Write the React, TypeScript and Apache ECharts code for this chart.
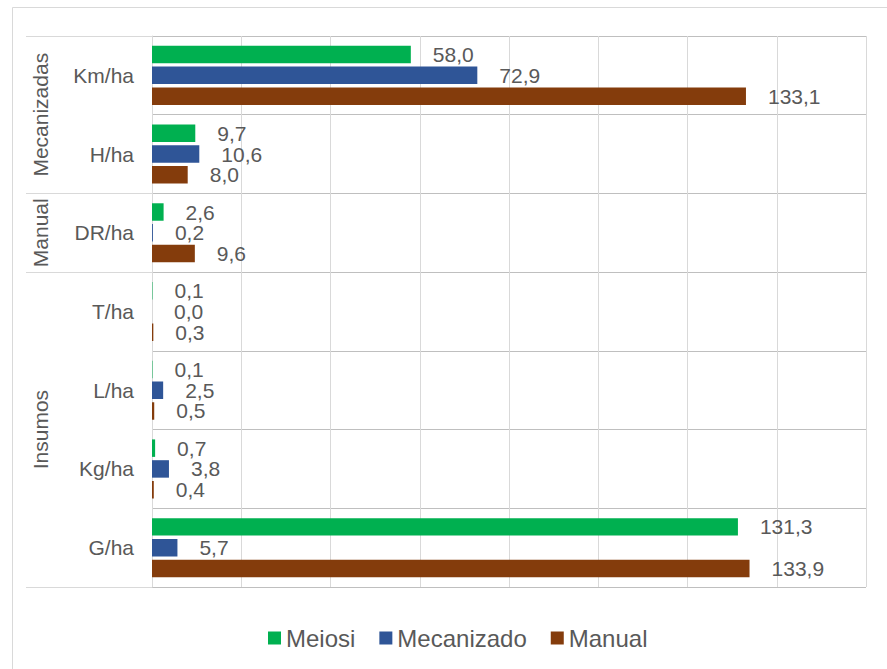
import React, { useEffect, useRef } from "react";
import * as echarts from "echarts";

// Indicator names on the category axis, top to bottom
const categories = ["Km/ha", "H/ha", "DR/ha", "T/ha", "L/ha", "Kg/ha", "G/ha"];

// Values per system, in category order
const meiosi = [58.0, 9.7, 2.6, 0.1, 0.1, 0.7, 131.3];
const mecanizado = [72.9, 10.6, 0.2, 0.0, 2.5, 3.8, 5.7];
const manual = [133.1, 8.0, 9.6, 0.3, 0.5, 0.4, 133.9];

const seriesNames = ["Meiosi", "Mecanizado", "Manual"];
const seriesColors = ["#00b050", "#2f5597", "#843c0c"];

// Outer grouping of the categories: label, first index, last index
const groupNames = ["Mecanizadas", "Manual", "Insumos"];
const groupFirst = [0, 2, 3];
const groupLast = [1, 2, 6];

const FONT = "'Liberation Sans', Arial, sans-serif";
const TEXT = "#595959";

const fmt = (v: number) => v.toFixed(1).replace(".", ",");

export default function App() {
  const ref = useRef<HTMLDivElement>(null);

  useEffect(() => {
    if (!ref.current) return;
    const chart = echarts.init(ref.current, undefined, { renderer: "svg" });
    const values = [meiosi, mecanizado, manual];

    const option: any = {
      animation: false,
      backgroundColor: "#ffffff",
      textStyle: { fontFamily: FONT },
      grid: { left: 152, right: 21, top: 36, bottom: 82, containLabel: false },
      xAxis: {
        type: "value",
        min: 0,
        max: 160,
        interval: 20,
        axisLabel: { show: false },
        axisLine: { show: false },
        axisTick: { show: false },
        splitLine: { show: true, lineStyle: { color: "#d9d9d9", width: 1 } },
      },
      yAxis: {
        type: "category",
        data: categories,
        inverse: true,
        axisLine: { show: true, lineStyle: { color: "#d9d9d9" } },
        axisTick: { show: false },
        axisLabel: { color: TEXT, fontSize: 21, fontFamily: FONT, margin: 18 },
        splitLine: { show: true, lineStyle: { color: "#bfbfbf", width: 1 } },
      },
      legend: {
        data: seriesNames,
        left: 263,
        top: 621,
        icon: "rect",
        itemWidth: 13,
        itemHeight: 13,
        itemGap: 24,
        textStyle: { color: TEXT, fontSize: 24, fontFamily: FONT, lineHeight: 24 },
      },
      series: seriesNames.map((name, i) => ({
        name,
        type: "bar",
        data: values[i],
        barCategoryGap: "25%",
        barGap: "19%",
        itemStyle: { color: seriesColors[i] },
        label: {
          show: true,
          position: "right",
          distance: 22,
          color: TEXT,
          fontSize: 21,
          fontFamily: FONT,
          formatter: (p: any) => fmt(p.value),
        },
      })),
    };
    chart.setOption(option);

    // Group labels and the separators that reach into the label column
    const yc = (i: number) => chart.convertToPixel({ yAxisIndex: 0 }, i) as number;
    const band = Math.abs(yc(1) - yc(0));
    const xAxisStart = chart.convertToPixel({ xAxisIndex: 0 }, 0) as number;
    const graphics: any[] = [
      {
        type: "rect",
        shape: { x: 12.5, y: 7.5, width: 1000, height: 1000 },
        style: { fill: "none", stroke: "#d9d9d9", lineWidth: 1 },
        silent: true,
      },
    ];
    const edges = new Set<number>();
    groupNames.forEach((name, g) => {
      const top = yc(groupFirst[g]) - band / 2;
      const bottom = yc(groupLast[g]) + band / 2;
      edges.add(Math.round(top));
      edges.add(Math.round(bottom));
      graphics.push({
        type: "text",
        x: 40,
        y: (top + bottom) / 2,
        rotation: Math.PI / 2,
        style: {
          text: name,
          fill: TEXT,
          font: `21px ${FONT}`,
          align: "center",
          verticalAlign: "middle",
        },
        silent: true,
      });
    });
    edges.forEach((y) => {
      graphics.push({
        type: "line",
        shape: { x1: 26, y1: y + 0.5, x2: xAxisStart, y2: y + 0.5 },
        style: { stroke: "#d9d9d9", lineWidth: 1 },
        silent: true,
      });
    });
    chart.setOption({ graphic: graphics });

    return () => chart.dispose();
  }, []);

  return (
    <div
      ref={ref}
      style={{ position: "fixed", left: 0, top: 0, width: 887, height: 669 }}
    />
  );
}
